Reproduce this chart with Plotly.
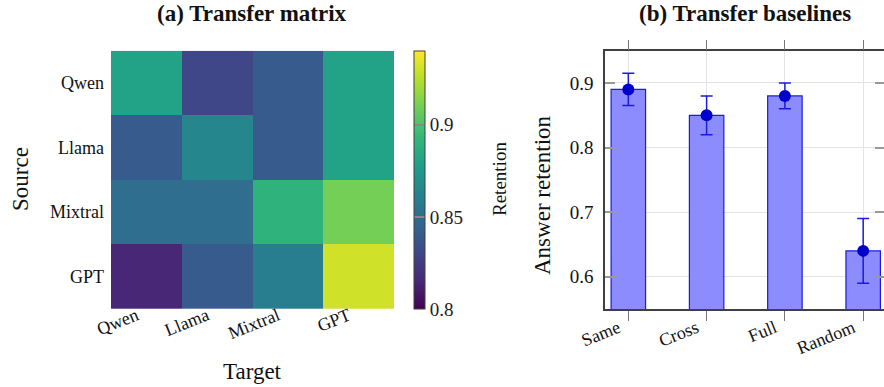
import plotly.graph_objects as go

# ---------------- data ----------------
models = ["Qwen", "Llama", "Mixtral", "GPT"]          # sources (rows) and targets (cols)
retention = [
    [0.88, 0.83, 0.84, 0.88],    # Qwen
    [0.84, 0.865, 0.84, 0.88],   # Llama
    [0.85, 0.85, 0.89, 0.91],    # Mixtral
    [0.815, 0.84, 0.86, 0.93],   # GPT
]
cb_ticks = [0.8, 0.85, 0.9]
cb_ticktext = ["0.8", "0.85", "0.9"]

baselines = ["Same", "Cross", "Full", "Random"]
answer_retention = [0.89, 0.85, 0.88, 0.64]
answer_err = [0.025, 0.03, 0.02, 0.05]
y_ticks = [0.6, 0.7, 0.8, 0.9]
y_ticktext = ["0.6", "0.7", "0.8", "0.9"]

W, H = 884, 387
FONT = "Liberation Serif"
AX = "#404040"
GRID = "#e3e3e3"

def px_x(p):
    return p / W

def px_y(p):
    return 1 - p / H

fig = go.Figure()

# ---------------- (a) heatmap ----------------
fig.add_trace(go.Heatmap(
    z=retention, x=models, y=models,
    colorscale="Viridis", zmin=0.8, zmax=0.94,
    xaxis="x", yaxis="y",
    colorbar=dict(
        x=px_x(414), xanchor="left", xpad=0,
        y=px_y(180), yanchor="middle", ypad=0,
        lenmode="pixels", len=258,
        thickness=11,
        outlinecolor=AX, outlinewidth=1,
        tickvals=cb_ticks, ticktext=cb_ticktext,
        ticks="inside", ticklen=11, tickcolor="#888888", tickwidth=1.5,
        tickfont=dict(family=FONT, size=19, color="#222222"),
    ),
    showscale=True,
))

# ---------------- (b) bars ----------------
fig.add_trace(go.Bar(
    x=baselines, y=answer_retention, width=0.44,
    marker=dict(color="#8c8cff", line=dict(color="#1a1ae0", width=1.2)),
    xaxis="x2", yaxis="y2", showlegend=False,
))
fig.add_trace(go.Scatter(
    x=baselines, y=answer_retention, mode="markers",
    marker=dict(color="#0000cc", size=12),
    error_y=dict(type="data", array=answer_err, color="#1a1ae0", thickness=1.5, width=6),
    xaxis="x2", yaxis="y2", showlegend=False,
))

dom_y = [px_y(309), px_y(50.7)]
bar_range = [-0.298, 3.266]

fig.update_layout(
    width=W, height=H,
    margin=dict(l=0, r=0, t=0, b=0),
    paper_bgcolor="white", plot_bgcolor="white",
    font=dict(family=FONT, color="#111111"),
    showlegend=False,
    xaxis=dict(
        domain=[px_x(111), px_x(394)], anchor="y",
        type="category", range=[-0.5, 3.5],
        showgrid=False, zeroline=False, showline=False,
        ticks="", tickangle=-22,
        ticklabelshift=-10, ticklabelstandoff=-8,
        tickfont=dict(family=FONT, size=18, color="#111111"),
        automargin=False,
    ),
    yaxis=dict(
        domain=dom_y, anchor="x",
        type="category", autorange="reversed",
        showgrid=False, zeroline=False, showline=False,
        ticks="", ticklabelstandoff=6,
        tickfont=dict(family=FONT, size=18, color="#111111"),
        automargin=False,
    ),
    xaxis2=dict(
        domain=[px_x(605), 1.0], anchor="y2",
        type="category", range=bar_range,
        showgrid=True, gridcolor=GRID, gridwidth=1,
        zeroline=False,
        showline=True, linecolor=AX, linewidth=1.5, mirror=True,
        ticks="outside", ticklen=10, tickcolor="#777777", tickwidth=1,
        tickangle=-22,
        ticklabelshift=-10, ticklabelstandoff=-10,
        tickfont=dict(family=FONT, size=18, color="#111111"),
        automargin=False,
    ),
    yaxis2=dict(
        domain=dom_y, anchor="x2",
        range=[0.55, 0.95],
        tickvals=y_ticks, ticktext=y_ticktext,
        showgrid=True, gridcolor=GRID, gridwidth=1,
        zeroline=False,
        showline=True, linecolor=AX, linewidth=1.5, mirror=False,
        ticks="inside", ticklen=10, tickcolor="#999999", tickwidth=1.5,
        ticklabelstandoff=6,
        tickfont=dict(family=FONT, size=19, color="#111111"),
        automargin=False,
    ),
    xaxis3=dict(
        overlaying="x2", anchor="y2", side="top",
        range=bar_range, tickvals=list(range(len(baselines))),
        showticklabels=False, showgrid=False, zeroline=False, showline=False,
        ticks="outside", ticklen=10, tickcolor="#777777", tickwidth=1,
        automargin=False,
    ),
    yaxis3=dict(
        overlaying="y2", anchor="x2", side="right",
        range=[0.55, 0.95], tickvals=y_ticks,
        showticklabels=False, showgrid=False, zeroline=False, showline=False,
        ticks="inside", ticklen=9, tickcolor="#999999", tickwidth=1.5,
        automargin=False,
    ),
)

# invisible trace to activate the overlay axes
fig.add_trace(go.Scatter(x=[None], y=[None], xaxis="x3", yaxis="y3",
                         showlegend=False, hoverinfo="skip"))

ann = [
    dict(text="<b>(a) Transfer matrix</b>", x=px_x(252), y=px_y(14), size=23, angle=0),
    dict(text="<b>(b) Transfer baselines</b>", x=px_x(745), y=px_y(14), size=23, angle=0),
    dict(text="Source", x=px_x(20), y=px_y(179), size=23, angle=-90),
    dict(text="Target", x=px_x(253), y=px_y(371), size=23, angle=0),
    dict(text="Retention", x=px_x(499), y=px_y(179), size=19, angle=-90),
    dict(text="Answer retention", x=px_x(542), y=px_y(195), size=23, angle=-90),
]
for a in ann:
    fig.add_annotation(
        text=a["text"], x=a["x"], y=a["y"], xref="paper", yref="paper",
        xanchor="center", yanchor="middle", showarrow=False, textangle=a["angle"],
        font=dict(family=FONT, size=a["size"], color="#111111"),
    )

fig.write_html("out.html",
               config={"displayModeBar": False},
               post_script="document.body.style.margin='0';document.body.style.padding='0';")
